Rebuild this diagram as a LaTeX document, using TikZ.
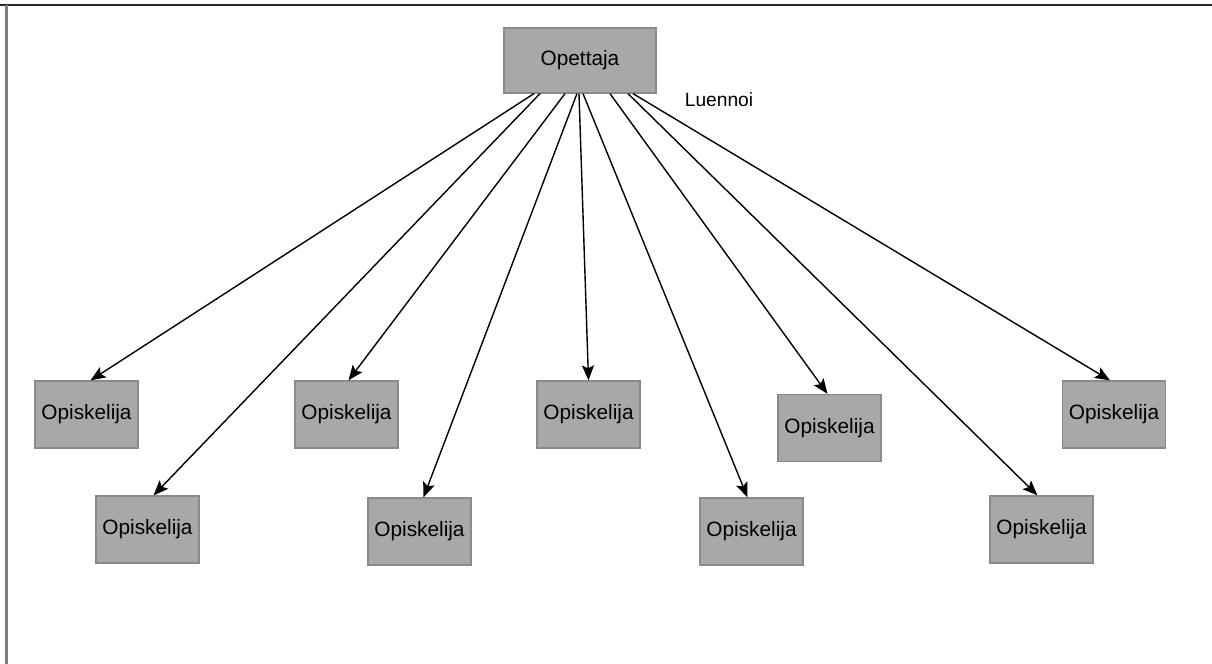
\documentclass[tikz,border=0pt]{standalone}
\usepackage{fontspec}
\setmainfont{Liberation Sans}
\usetikzlibrary{arrows.meta}
\definecolor{boxfill}{HTML}{A8A8A8}
\definecolor{boxline}{HTML}{8A8A8A}
\tikzset{
  teacherbox/.style={draw=boxline, fill=boxfill, line width=0.6pt, minimum width=76pt, minimum height=32.5pt, inner sep=0pt, font=\fontsize{10.4}{12}\selectfont},
  studentbox/.style={draw=boxline, fill=boxfill, line width=0.6pt, minimum width=51.5pt, minimum height=33.5pt, inner sep=0pt, font=\fontsize{10.4}{12}\selectfont},
  link/.style={line width=0.7pt, -{Stealth[length=7.5pt, width=6pt, inset=1.5pt]}},
}
\begin{document}
\begin{tikzpicture}[x=0.5pt, y=-0.5pt]
\useasboundingbox (0,0) rectangle (1212,664);
% page frame: top and left edges only
\draw[line width=1pt, black!85] (0,5) -- (1212,5);
\draw[line width=1.1pt, black!50] (6.5,5) -- (6.5,664);

\node[teacherbox] (t) at (580,60.5) {Opettaja};
\node[font=\fontsize{9.6}{11}\selectfont] (lbl) at (719,100) {Luennoi};

\node[studentbox] (b1) at (86.5,414.5) {Opiskelija};
\node[studentbox] (b2) at (147.5,529.5) {Opiskelija};
\node[studentbox] (b3) at (346.5,414.5) {Opiskelija};
\node[studentbox] (b4) at (419.5,531.5) {Opiskelija};
\node[studentbox] (b5) at (588.5,414.5) {Opiskelija};
\node[studentbox] (b6) at (751.5,531.5) {Opiskelija};
\node[studentbox] (b7) at (829.5,428) {Opiskelija};
\node[studentbox] (b8) at (1041.5,529.5) {Opiskelija};
\node[studentbox] (b9) at (1114,414.5) {Opiskelija};

\draw[link] ([xshift=-23pt]t.south) -- ([xshift=2pt]b1.north);
\draw[link] ([xshift=-20pt]t.south) -- ([xshift=3pt]b2.north);
\draw[link] ([xshift=-7.5pt]t.south) -- ([xshift=1pt]b3.north);
\draw[link] ([xshift=-1.5pt]t.south) -- ([xshift=2pt]b4.north);
\draw[link] ([xshift=-0.5pt]t.south) -- (b5.north);
\draw[link] ([xshift=1.5pt]t.south) -- ([xshift=-2pt]b6.north);
\draw[link] ([xshift=15pt]t.south) -- ([xshift=-1pt]b7.north);
\draw[link] ([xshift=24pt]t.south) -- ([xshift=-2pt]b8.north);
\draw[link] ([xshift=26.5pt]t.south) -- ([xshift=-2pt]b9.north);
\end{tikzpicture}
\end{document}
